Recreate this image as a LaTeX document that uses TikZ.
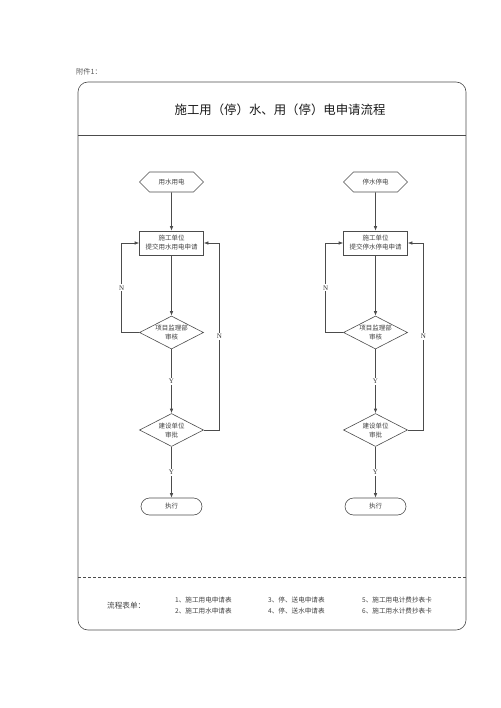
\documentclass[tikz,border=0pt]{standalone}
\usepackage{fontspec}
\setmainfont{Liberation Serif}
\newfontfamily\cjk{Noto Sans CJK SC}
\usetikzlibrary{shapes.geometric,shapes.symbols,arrows.meta}
\tikzset{
  ln/.style={draw=black!70,line width=0.6pt},
  arr/.style={ln,-{Latex[length=4.5pt,width=3.5pt]}},
  nodetext/.style={text=black!75,font=\cjk\fontsize{6.5}{9}\selectfont,align=center},
  hexa/.style={nodetext,ln,signal,signal to=west and east,signal pointer angle=90,minimum width=64pt,minimum height=20pt,inner sep=1pt},
  procbox/.style={nodetext,ln,rectangle,minimum width=64pt,minimum height=24pt,inner sep=1pt},
  decide/.style={nodetext,ln,diamond,aspect=2,minimum width=64pt,minimum height=33pt,inner sep=0pt},
  term/.style={nodetext,ln,rectangle,rounded corners=8.5pt,minimum width=61pt,minimum height=17pt,inner sep=1pt},
  lbl/.style={fill=white,inner sep=1pt,text=black!80,font=\fontsize{7}{8}\selectfont},
  formtext/.style={anchor=west,text=black!75,font=\cjk\fontsize{6.6}{8}\selectfont,inner sep=0pt}
}
\begin{document}
\begin{tikzpicture}[x=1pt,y=-1pt]
\useasboundingbox (0,0) rectangle (500,708);
% frame
\draw[ln,rounded corners=10pt] (78,82) rectangle (466,630);
\draw[ln] (78,135) -- (466,135);
\draw[ln,dash pattern=on 3pt off 2pt] (78,577) -- (466,577);
\node[anchor=west,text=black!65,font=\cjk\fontsize{7.2}{9}\selectfont,inner sep=0pt] (fj) at (76,72) {附件1：};
\node[text=black!90,font=\cjk\fontsize{12.4}{14}\selectfont] (title) at (280,110) {施工用（停）水、用（停）电申请流程};

% left flow
\node[hexa] (h1) at (171.5,182) {用水用电};
\node[procbox] (b1) at (171.5,243) {施工单位\\提交用水用电申请};
\node[decide] (d1) at (171.5,332.5) {项目监理部\\审核};
\node[decide] (d2) at (171.5,430) {建设单位\\审批};
\node[term] (t1) at (171.5,506.5) {执行};
\draw[arr] (h1) -- (b1);
\draw[arr] (b1) -- (d1);
\draw[arr] (d1) -- node[lbl]{Y} (d2);
\draw[arr] (d2) -- node[lbl]{Y} (t1);
\draw[arr] (d1.west) -- ++(-17.5,0) |- node[lbl,pos=0.25]{N} (b1.west);
\draw[arr] (d2.east) -- ++(15.5,0) |- node[lbl,pos=0.25]{N} (b1.east);

% right flow
\node[hexa] (h2) at (375.5,182) {停水停电};
\node[procbox] (b2) at (375.5,243) {施工单位\\提交停水停电申请};
\node[decide] (d3) at (375.5,332.5) {项目监理部\\审核};
\node[decide] (d4) at (375.5,430) {建设单位\\审批};
\node[term] (t2) at (375.5,506.5) {执行};
\draw[arr] (h2) -- (b2);
\draw[arr] (b2) -- (d3);
\draw[arr] (d3) -- node[lbl]{Y} (d4);
\draw[arr] (d4) -- node[lbl]{Y} (t2);
\draw[arr] (d3.west) -- ++(-17.5,0) |- node[lbl,pos=0.25]{N} (b2.west);
\draw[arr] (d4.east) -- ++(15.5,0) |- node[lbl,pos=0.25]{N} (b2.east);

% forms
\node[anchor=west,text=black!75,font=\cjk\fontsize{7.6}{9}\selectfont,inner sep=0pt] (lc) at (107,605.5) {流程表单：};
\node[formtext] (f1) at (175,600) {1、施工用电申请表};
\node[formtext] (f2) at (175,611) {2、施工用水申请表};
\node[formtext] (f3) at (268,600) {3、停、送电申请表};
\node[formtext] (f4) at (268,611) {4、停、送水申请表};
\node[formtext] (f5) at (362,600) {5、施工用电计费抄表卡};
\node[formtext] (f6) at (362,611) {6、施工用水计费抄表卡};
\end{tikzpicture}
\end{document}
